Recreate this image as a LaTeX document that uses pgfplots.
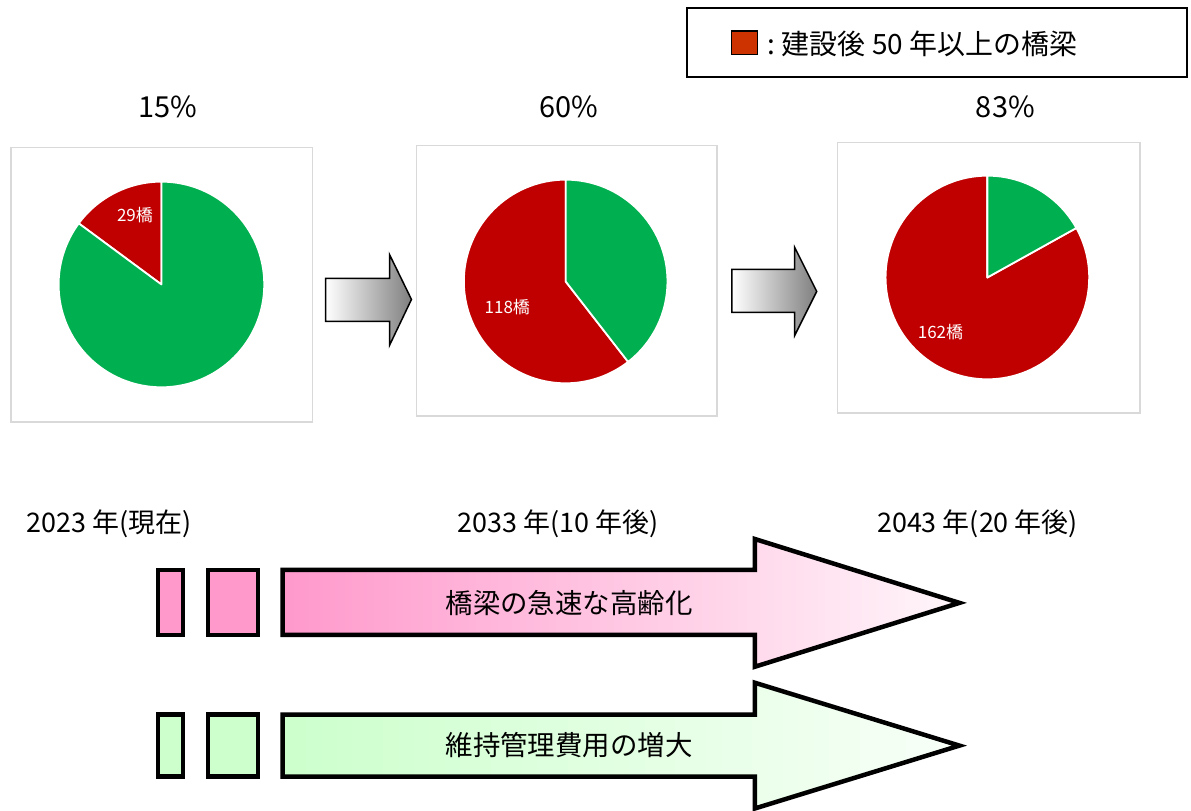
\documentclass[border=0pt]{standalone}
\usepackage{pgfplots}
\pgfplotsset{compat=1.18}
\usepackage{pgfplotstable}
\usepackage{fontspec}
\setmainfont{Noto Sans CJK JP}
\definecolor{pred}{HTML}{C00000}
\definecolor{pgreen}{HTML}{00B050}
\definecolor{legred}{HTML}{CC3300}
\definecolor{boxgray}{HTML}{D9D9D9}
\definecolor{pinkL}{HTML}{FF99CC}
\definecolor{pinkR}{HTML}{FFF6FA}
\definecolor{greenL}{HTML}{CCFFCC}
\definecolor{greenR}{HTML}{F8FFF8}
\definecolor{arrgray}{HTML}{7F7F7F}

% pie data: centre (px), radius (px), bridges >= 50 years (red), others (green)
\pgfplotstableread{
cx    cy   r    red  green
159.5 285  103  29   166
564.5 282  102  118  77
987   278  102  162  33
}\pies

\newcommand\getpie[2]{%
  \pgfplotstablegetelem{#1}{cx}\of\pies \expandafter\let\csname cx#2\endcsname\pgfplotsretval
  \pgfplotstablegetelem{#1}{cy}\of\pies \expandafter\let\csname cy#2\endcsname\pgfplotsretval
  \pgfplotstablegetelem{#1}{r}\of\pies \expandafter\let\csname r#2\endcsname\pgfplotsretval
  \pgfplotstablegetelem{#1}{red}\of\pies \let\pr\pgfplotsretval
  \pgfplotstablegetelem{#1}{green}\of\pies \let\pg\pgfplotsretval
  \pgfmathsetmacro\frac{\pr/(\pr+\pg)}%
  \pgfmathsetmacro\tmpA{90+360*\frac}%
  \expandafter\let\csname ang#2\endcsname\tmpA
  \pgfmathsetmacro\tmpB{90+360*\frac-360}%
  \expandafter\let\csname angn#2\endcsname\tmpB
  \pgfmathsetmacro\tmpC{\csname cy#2\endcsname-\csname r#2\endcsname}%
  \expandafter\let\csname top#2\endcsname\tmpC
}

\newcommand\drawpie[1]{%
  \fill[pred, draw=white, line width=1.8bp, line join=round]
    (\csname cx#1\endcsname,\csname cy#1\endcsname) -- (\csname cx#1\endcsname,\csname top#1\endcsname)
    arc[start angle=90, end angle=\csname ang#1\endcsname, radius=\csname r#1\endcsname bp] -- cycle;
  \fill[pgreen, draw=white, line width=1.8bp, line join=round]
    (\csname cx#1\endcsname,\csname cy#1\endcsname) -- (\csname cx#1\endcsname,\csname top#1\endcsname)
    arc[start angle=90, end angle=\csname angn#1\endcsname, radius=\csname r#1\endcsname bp] -- cycle;
}

\begin{document}
\getpie{0}{A}\getpie{1}{B}\getpie{2}{C}
\begin{tikzpicture}
\useasboundingbox (0,0) rectangle (1191bp,812bp);
\begin{axis}[
  at={(0,0)}, anchor=south west,
  scale only axis, width=1191bp, height=812bp,
  xmin=0, xmax=1191, ymin=0, ymax=812, y dir=reverse,
  hide axis, clip=false]

% pie frames
\draw[boxgray, line width=1.5bp] (9,148) rectangle (311,423);
\draw[boxgray, line width=1.5bp] (415,146) rectangle (716,417);
\draw[boxgray, line width=1.5bp] (837,143) rectangle (1140,414);

% pies
\drawpie{A}
\drawpie{B}
\drawpie{C}

\node[white, font=\fontsize{17bp}{20bp}\selectfont] at (133,215) {29橋};
\node[white, font=\fontsize{17bp}{20bp}\selectfont] at (506,308) {118橋};
\node[white, font=\fontsize{17bp}{20bp}\selectfont] at (940,333) {162橋};

% percentages
\node[font=\fontsize{29bp}{32bp}\selectfont] at (166,107) {15\%};
\node[font=\fontsize{29bp}{32bp}\selectfont] at (568,107) {60\%};
\node[font=\fontsize{29bp}{32bp}\selectfont] at (1005,107) {83\%};

% legend
\draw[black, line width=2bp] (686,8) rectangle (1187,77);
\draw[fill=legred, line width=1.2bp] (731,31) rectangle (757,55);
\node[anchor=west, font=\fontsize{28bp}{32bp}\selectfont] at (759,44) {\,:\ 建設後 50 年以上の橋梁};

% gray arrows
\draw[line width=1.5bp, line join=miter, left color=white, right color=arrgray]
  (324,279) -- (388,279) -- (388,255) -- (410,300) -- (388,346) -- (388,322) -- (324,322) -- cycle;
\draw[line width=1.5bp, line join=miter, left color=white, right color=arrgray]
  (731,270) -- (794,270) -- (794,248) -- (816,292) -- (794,336) -- (794,313) -- (731,313) -- cycle;

% year labels
\node[anchor=west, font=\fontsize{27bp}{30bp}\selectfont] at (21,525) {2023 年(現在)};
\node[anchor=west, font=\fontsize{27bp}{30bp}\selectfont] at (453,525) {2033 年(10 年後)};
\node[anchor=west, font=\fontsize{27bp}{30bp}\selectfont] at (873,525) {2043 年(20 年後)};

% pink arrow
\draw[line width=4.5bp, fill=pinkL] (156,571) rectangle (181,636);
\draw[line width=4.5bp, fill=pinkL] (206,571) rectangle (256,636);
\draw[line width=4.5bp, line join=miter, left color=pinkL, right color=pinkR]
  (281,571) -- (754,571) -- (754,540) -- (959,604) -- (754,668) -- (754,636) -- (281,636) -- cycle;
\node[font=\fontsize{27.5bp}{30bp}\selectfont] at (568,604) {橋梁の急速な高齢化};

% green arrow
\draw[line width=4.5bp, fill=greenL] (156,716) rectangle (181,778);
\draw[line width=4.5bp, fill=greenL] (206,716) rectangle (256,778);
\draw[line width=4.5bp, line join=miter, left color=greenL, right color=greenR]
  (281,716) -- (754,716) -- (754,684) -- (959,747) -- (754,810) -- (754,778) -- (281,778) -- cycle;
\node[font=\fontsize{27.5bp}{30bp}\selectfont] at (568,746) {維持管理費用の増大};

\end{axis}
\end{tikzpicture}
\end{document}
